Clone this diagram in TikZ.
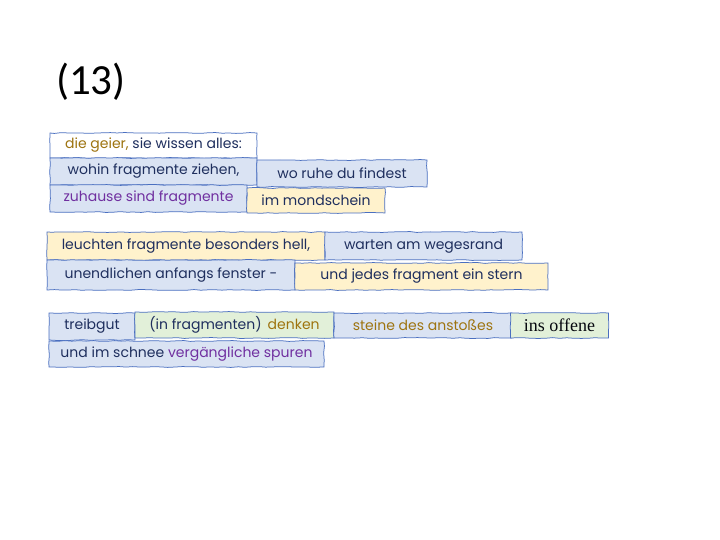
\documentclass[tikz,border=0pt]{standalone}
\usepackage{fontspec}
\setmainfont{Poppins}
\newfontfamily\serifalt{Liberation Serif}
\newfontfamily\numfont{Carlito}
\usetikzlibrary{decorations.pathmorphing}
\definecolor{bordblue}{HTML}{4A6FC0}
\definecolor{fillblue}{HTML}{DAE3F3}
\definecolor{fillyellow}{HTML}{FFF2CC}
\definecolor{fillgreen}{HTML}{E2F0D9}
\definecolor{navy}{HTML}{1F2F5E}
\definecolor{gold}{HTML}{9E7410}
\definecolor{purp}{HTML}{7030A0}
\tikzset{
  hbox/.style={draw=bordblue, line width=0.75pt, inner sep=0pt,
    decorate, decoration={random steps, segment length=7pt, amplitude=0.45pt},
    text=navy, font=\fontsize{14}{16}\selectfont, anchor=center},
  bluebox/.style={hbox, fill=fillblue},
  yellowbox/.style={hbox, fill=fillyellow},
  greenbox/.style={hbox, fill=fillgreen},
  whitebox/.style={hbox, fill=white},
  sz/.style 2 args={minimum width=#1pt, minimum height=#2pt},
}
\begin{document}
\begin{tikzpicture}[x=1pt, y=-1pt]
\useasboundingbox (0,0) rectangle (720,540);
\node[font=\numfont\fontsize{43}{46}\selectfont, text=black] (title) at (91,82) {(13)};

\node[whitebox, sz={207}{25}] (geier) at (153.5,145.5) {\textcolor{gold}{die geier,} sie wissen alles:};
\node[bluebox, sz={207}{27}] (wohin) at (153.5,171.5) {wohin fragmente ziehen,};
\node[bluebox, sz={170}{27}] (ruhe) at (342,173.5) {wo ruhe du findest};
\node[bluebox, sz={197}{27}, text=purp] (zuhause) at (148.5,198.5) {zuhause sind fragmente};
\node[yellowbox, sz={138}{25}] (mond) at (316,200.5) {im mondschein};

\node[yellowbox, sz={278}{28}] (leuchten) at (186,246) {leuchten fragmente besonders hell,};
\node[bluebox, sz={197}{28}] (warten) at (423.5,246) {warten am wegesrand};
\node[bluebox, sz={248}{30}] (unendl) at (171,275) {unendlichen anfangs fenster -};
\node[yellowbox, sz={253}{27}] (jedes) at (421.5,276.5) {und jedes fragment ein stern};

\node[bluebox, sz={86}{27}] (treib) at (92,326.5) {treibgut};
\node[greenbox, sz={199}{26}] (infrag) at (234.5,325) {(in fragmenten)\hspace{6pt}\textcolor{gold}{denken}};
\node[bluebox, sz={178}{25}, text=gold] (steine) at (423,325.5) {steine des anstoßes};
\node[greenbox, sz={98}{25}, font=\serifalt\fontsize{18}{20}\selectfont, text=black!85!navy] (offene) at (559.5,325.5) {ins offene};
\node[bluebox, sz={275}{26}] (schnee) at (186.5,354) {und im schnee \textcolor{purp}{vergängliche spuren}};
\end{tikzpicture}
\end{document}
